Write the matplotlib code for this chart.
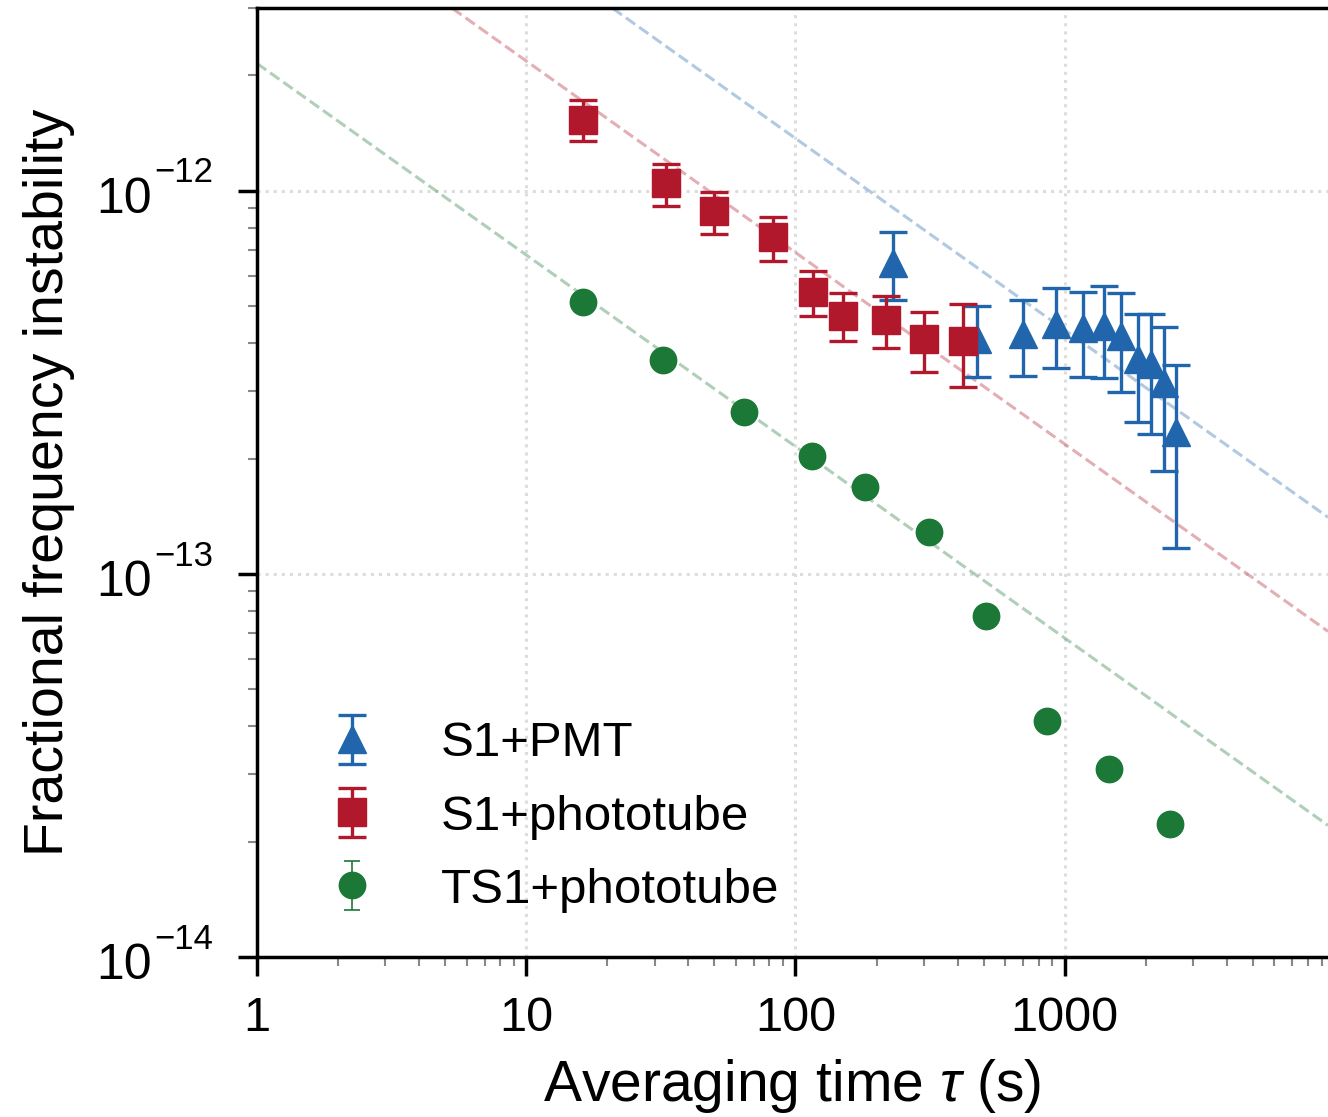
import matplotlib
matplotlib.use('Agg')
import matplotlib.pyplot as plt
import numpy as np
from matplotlib.ticker import FixedLocator, LogLocator, NullFormatter, FuncFormatter
from matplotlib.transforms import offset_copy

plt.rcParams['font.family'] = ['Liberation Sans', 'DejaVu Sans']
plt.rcParams['mathtext.fontset'] = 'custom'
plt.rcParams['mathtext.rm'] = 'Liberation Sans'
plt.rcParams['mathtext.it'] = 'Liberation Sans:italic'
plt.rcParams['mathtext.sf'] = 'Liberation Sans'

# S1 + PMT
tau_pmt = [229.5, 471, 698, 926, 1167, 1396, 1615, 1868, 2089, 2334, 2587]
adev_pmt = [6.49e-13, 4.11e-13, 4.23e-13, 4.50e-13, 4.39e-13, 4.44e-13, 4.18e-13, 3.64e-13, 3.53e-13, 3.15e-13, 2.35e-13]
hi_pmt = [7.81e-13, 5.01e-13, 5.19e-13, 5.58e-13, 5.45e-13, 5.65e-13, 5.42e-13, 4.78e-13, 4.78e-13, 4.42e-13, 3.51e-13]
lo_pmt = [5.19e-13, 3.27e-13, 3.29e-13, 3.45e-13, 3.27e-13, 3.25e-13, 2.99e-13, 2.49e-13, 2.32e-13, 1.86e-13, 1.17e-13]

# S1 + phototube
tau_s1 = [16.3, 32.9, 49.6, 82.8, 115.7, 149.6, 216, 299, 418]
adev_s1 = [1.53e-12, 1.05e-12, 8.87e-13, 7.59e-13, 5.45e-13, 4.72e-13, 4.61e-13, 4.11e-13, 4.06e-13]
hi_s1 = [1.73e-12, 1.175e-12, 9.94e-13, 8.55e-13, 6.18e-13, 5.42e-13, 5.32e-13, 4.83e-13, 5.07e-13]
lo_s1 = [1.35e-12, 9.14e-13, 7.72e-13, 6.56e-13, 4.72e-13, 4.06e-13, 3.89e-13, 3.37e-13, 3.08e-13]

# TS1 + phototube
tau_ts1 = [16.2, 32.3, 64.6, 115, 181, 312, 508, 857, 1458, 2457]
adev_ts1 = [5.13e-13, 3.62e-13, 2.65e-13, 2.03e-13, 1.69e-13, 1.29e-13, 7.76e-14, 4.13e-14, 3.10e-14, 2.22e-14]
err_ts1 = [1.0e-14, 7e-15, 5e-15, 4e-15, 3e-15, 2.5e-15, 1.5e-15, 8e-16, 6e-16, 4e-16]

# 1/sqrt(tau) 参考线系数
coef_pmt = 1.37e-11
coef_s1 = 6.9e-12
coef_ts1 = 2.15e-12

x_ticks = [1, 10, 100, 1000]
y_ticks = [1e-14, 1e-13, 1e-12]

c_blue = '#2166ac'
c_red = '#b2182b'
c_green = '#1b7837'

fig = plt.figure(figsize=(13.28, 11.17), dpi=100)
ax = fig.add_axes([257 / 1328, 160 / 1117, 1 - 257 / 1328, (957 - 8) / 1117])
ax.set_xscale('log')
ax.set_yscale('log')

xmin, xmax = 1, 9500
t = np.logspace(np.log10(xmin), np.log10(xmax), 200)
for coef, c in [(coef_pmt, c_blue), (coef_s1, c_red), (coef_ts1, c_green)]:
    ax.plot(t, coef / np.sqrt(t), '--', color=c, alpha=0.35, lw=2.2, zorder=1)

def yerr(y, lo, hi):
    y = np.array(y)
    return [y - np.array(lo), np.array(hi) - y]

ax.errorbar(tau_pmt, adev_pmt, yerr=yerr(adev_pmt, lo_pmt, hi_pmt), fmt='^', color=c_blue,
            ms=20, capsize=10, capthick=2.4, elinewidth=2.4, label='S1+PMT', zorder=3)
ax.errorbar(tau_s1, adev_s1, yerr=yerr(adev_s1, lo_s1, hi_s1), fmt='s', color=c_red,
            ms=20, capsize=10, capthick=2.4, elinewidth=2.4, label='S1+phototube', zorder=4)
ax.errorbar(tau_ts1, adev_ts1, yerr=err_ts1, fmt='o', color=c_green,
            ms=19, capsize=6, capthick=1.2, elinewidth=1.2, label='TS1+phototube', zorder=5)

ax.set_xlim(xmin, xmax)
ax.set_ylim(1e-14, 3e-12)

ax.xaxis.set_major_locator(FixedLocator(x_ticks))
ax.xaxis.set_minor_locator(LogLocator(base=10, subs=np.arange(2, 10), numticks=20))
ax.xaxis.set_major_formatter(FuncFormatter(lambda v, p: '%g' % v))
ax.xaxis.set_minor_formatter(NullFormatter())
ax.yaxis.set_major_locator(FixedLocator(y_ticks))
ax.yaxis.set_major_formatter(NullFormatter())
ax.yaxis.set_minor_locator(LogLocator(base=10, subs=np.arange(2, 10), numticks=20))
ax.yaxis.set_minor_formatter(NullFormatter())

ax.tick_params(which='major', direction='out', length=14, width=2.5)
ax.tick_params(axis='x', which='major', labelsize=35, pad=14)
ax.tick_params(which='minor', direction='out', length=6.5, width=1.5, color='#888888')

# y 轴刻度标签：10 加上小号上标
ytrans = ax.get_yaxis_transform()
base_tr = offset_copy(ytrans, fig=fig, x=0, y=-6.5, units='points')
sup_tr = offset_copy(ytrans, fig=fig, x=1.5, y=6, units='points')
for v in y_ticks:
    e = int(round(np.log10(v)))
    ax.text(-0.098, v, '10', transform=base_tr, ha='right', va='center', fontsize=36)
    ax.text(-0.098, v, '\u2212%d' % -e, transform=sup_tr, ha='left', va='baseline', fontsize=25)

for s in ['left', 'bottom', 'top']:
    ax.spines[s].set_linewidth(2.5)
ax.spines['right'].set_visible(False)

ax.grid(True, which='major', linestyle=':', color='#dddddd', lw=2.2)
ax.set_axisbelow(True)

ax.set_xlabel(r'Averaging time $\tau$ (s)', fontsize=41)
ax.set_ylabel('Fractional frequency instability', fontsize=40)
ax.xaxis.set_label_coords(0.5, -0.105)
ax.yaxis.set_label_coords(-0.17, 0.5)

ax.legend(loc='lower left', bbox_to_anchor=(0.0015, 0.0), frameon=False, fontsize=35.5,
          handlelength=2, handletextpad=0.8, labelspacing=0.57)

plt.savefig('out.png', dpi=100)
